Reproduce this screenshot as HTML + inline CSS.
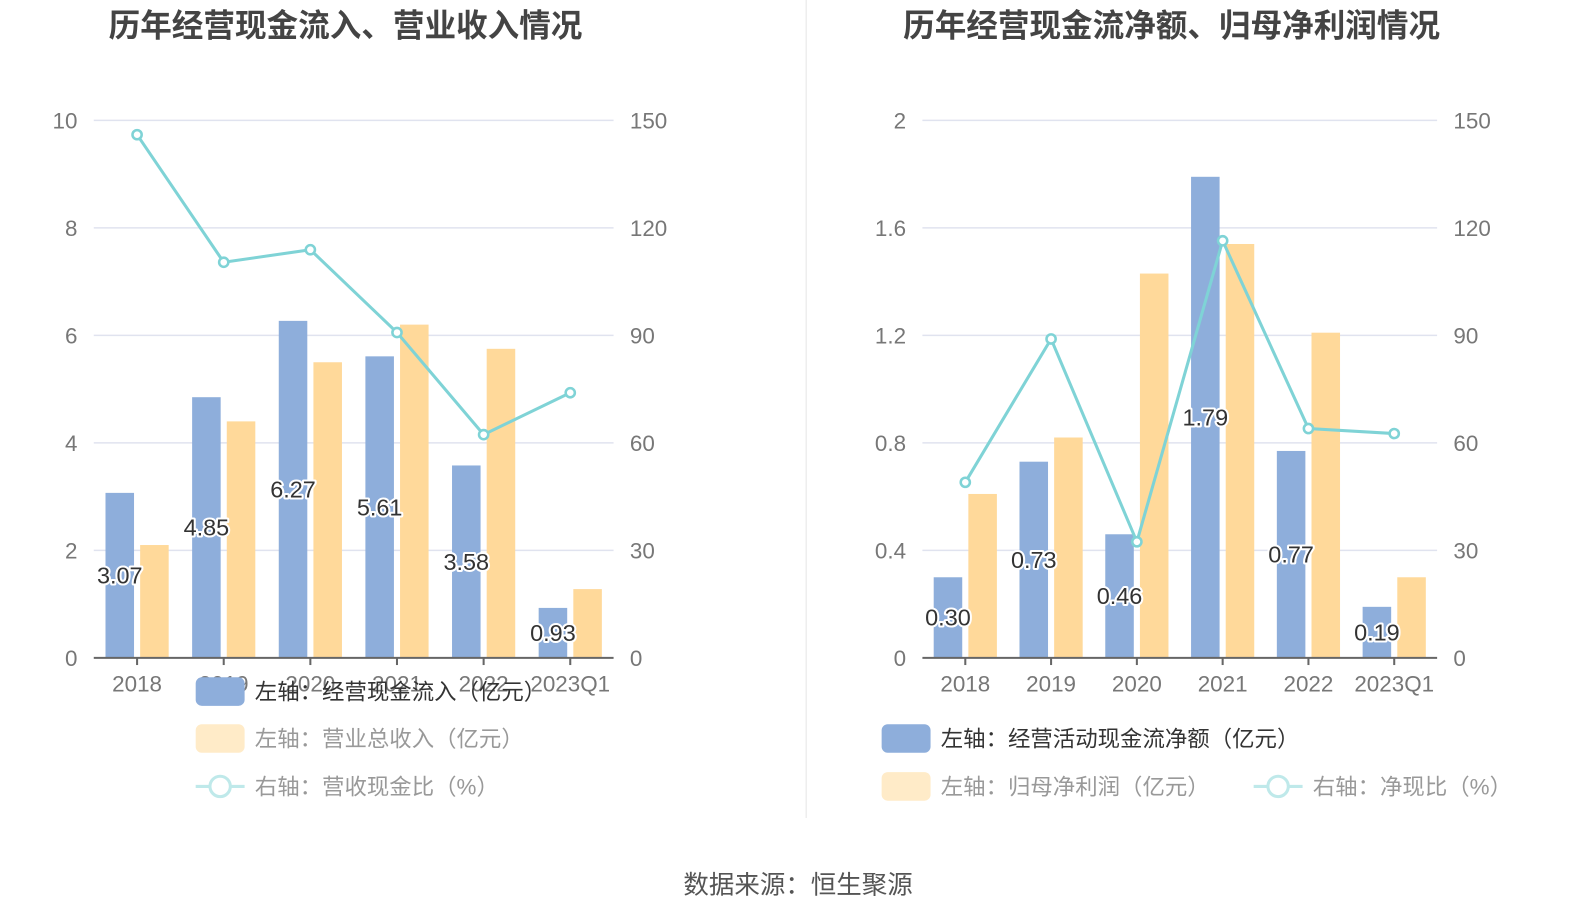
<!DOCTYPE html>
<html><head><meta charset="utf-8"><style>
html,body{margin:0;padding:0;background:#fff}
svg{display:block;font-family:"Liberation Sans","Noto Sans CJK SC",sans-serif}
</style></head><body>
<svg id="c" width="1590" height="918" viewBox="0 0 1560 900" preserveAspectRatio="none"></svg>
<script>
const categories=["2018","2019","2020","2021","2022","2023Q1"];
const inflow=[3.07,4.85,6.27,5.61,3.58,0.93];
const revenue=[2.1,4.4,5.5,6.2,5.75,1.28];
const ratioL=[146,110.4,113.9,90.8,62.3,74];
const netCash=[0.30,0.73,0.46,1.79,0.77,0.19];
const profit=[0.61,0.82,1.43,1.54,1.21,0.30];
const ratioR=[49,89,32.4,116.4,64,62.6];
const leftTicksL=["0","2","4","6","8","10"];
const leftTicksR=["0","0.4","0.8","1.2","1.6","2"];
const rightTicks=["0","30","60","90","120","150"];

const NS="http://www.w3.org/2000/svg";
const svg=document.getElementById('c');
function el(t,a,p){const e=document.createElementNS(NS,t);for(const k in a)e.setAttribute(k,a[k]);(p||svg).appendChild(e);return e;}
function txt(s,a,p){const e=el('text',a,p);e.textContent=s;return e;}

function panel(o){
  const g=el('g',{});
  
  
  const x0=o.x0,x1=o.x1,yT=118,yB=645;
  const yL=v=>yB-(v/o.lmax)*(yB-yT);
  const yR=v=>yB-(v/150)*(yB-yT);
  const bw=(x1-x0)/categories.length;
  const t=txt(o.title,{x:(x0+x1)/2-8,y:36,'text-anchor':'middle','font-size':31,'font-weight':'bold',fill:'#444'},g);
  
  o.lticks.forEach((s,i)=>{
    const y=yB-i*(yB-yT)/5;
    if(i>0){const l=el('line',{x1:x0,x2:x1,y1:y,y2:y,stroke:'#e0e3ef','stroke-width':1.5},g);}
    const a=txt(s,{x:x0-16,y:y+8,'text-anchor':'end','font-size':22,fill:'#777'},g);
    const b=txt(rightTicks[i],{x:x1+16,y:y+8,'font-size':22,fill:'#777'},g);
  });
  categories.forEach((c,i)=>{
    const cx=x0+bw*(i+0.5);
    const b1=el('rect',{x:cx-31,y:yL(o.a[i]),width:28,height:yB-yL(o.a[i]),fill:'#8eaedb'},g);
    
    const b2=el('rect',{x:cx+3,y:yL(o.b[i]),width:28,height:yB-yL(o.b[i]),fill:'#ffd99a'},g);
    
    const tk=el('line',{x1:cx,x2:cx,y1:yB,y2:yB+7,stroke:'#666','stroke-width':2},g);
    const xl=txt(c,{x:cx,y:yB+33,'text-anchor':'middle','font-size':22,fill:'#777'},g);
  });
  const ax=el('line',{x1:x0,x2:x1,y1:yB,y2:yB,stroke:'#666','stroke-width':2},g);
  const pts=o.r.map((v,i)=>[x0+bw*(i+0.5),yR(v)]);
  const pl=el('polyline',{points:pts.map(p=>p.join(',')).join(' '),fill:'none',stroke:'#7fd3d6','stroke-width':3},g);
  
  pts.forEach(p=>{const c=el('circle',{cx:p[0],cy:p[1],r:4.5,fill:'#fff',stroke:'#7fd3d6','stroke-width':2.5},g);});
  categories.forEach((c,i)=>{
    const cx=x0+bw*(i+0.5)-17;
    const y=(yL(o.a[i])+yB)/2;
    const l=txt(o.a[i].toFixed(2),{x:cx,y:y+8,'text-anchor':'middle','font-size':23,fill:'#333',stroke:'#fff','stroke-width':4,'paint-order':'stroke','stroke-linejoin':'round'},g);
    
  });
  o.legend.forEach(L=>{
    const lg=el('g',{},g);
    if(L.t==='line'){
      el('line',{x1:L.x,x2:L.x+48,y1:L.y,y2:L.y,stroke:'#bfe9ea','stroke-width':3},lg);
      el('circle',{cx:L.x+24,cy:L.y,r:10,fill:'#fff',stroke:'#bfe9ea','stroke-width':3},lg);
    } else el('rect',{x:L.x,y:L.y-14,width:48,height:28,rx:6,fill:L.c},lg);
    txt(L.s,{x:L.x+58,y:L.y+8,'font-size':22,fill:L.f},lg);
  });
}
panel({name:'left-chart',x0:92,x1:602,lmax:10,lticks:leftTicksL,a:inflow,b:revenue,r:ratioL,
  title:'历年经营现金流入、营业收入情况',
  legend:[{x:192,y:678,c:'#8eaedb',s:'左轴：经营现金流入（亿元）',f:'#333'},
          {x:192,y:724,c:'#ffebc8',s:'左轴：营业总收入（亿元）',f:'#999'},
          {x:192,y:771,t:'line',s:'右轴：营收现金比（%）',f:'#999'}]});
panel({name:'right-chart',x0:905,x1:1410,lmax:2,lticks:leftTicksR,a:netCash,b:profit,r:ratioR,
  title:'历年经营现金流净额、归母净利润情况',
  legend:[{x:865,y:724,c:'#8eaedb',s:'左轴：经营活动现金流净额（亿元）',f:'#333'},
          {x:865,y:771,c:'#ffebc8',s:'左轴：归母净利润（亿元）',f:'#999'},
          {x:1230,y:771,t:'line',s:'右轴：净现比（%）',f:'#999'}]});
const d=el('line',{x1:791,x2:791,y1:0,y2:802,stroke:'#eee','stroke-width':1.5});

const src=txt('数据来源：恒生聚源',{x:783,y:876,'text-anchor':'middle','font-size':25,fill:'#555'});

</script>
</body></html>
